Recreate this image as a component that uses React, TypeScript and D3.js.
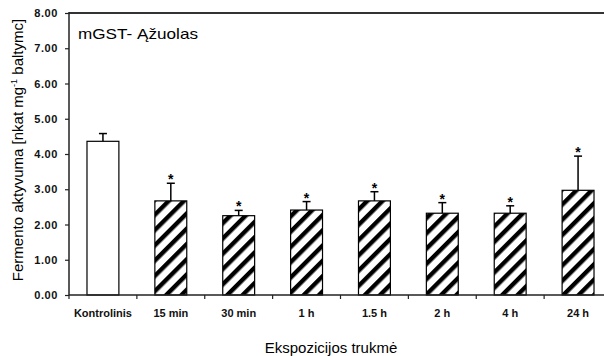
import { useEffect, useRef } from "react";
import * as d3 from "d3";

const categories = ["Kontrolinis", "15 min", "30 min", "1 h", "1.5 h", "2 h", "4 h", "24 h"];
const means = [4.36, 2.67, 2.25, 2.41, 2.67, 2.32, 2.32, 2.97];
const errors = [0.22, 0.5, 0.15, 0.24, 0.26, 0.3, 0.21, 0.97];
const significant = [false, true, true, true, true, true, true, true];
const yTicks = [0, 1, 2, 3, 4, 5, 6, 7, 8];

const FONT = "Arial, 'Liberation Sans', sans-serif";

const App = () => {
  const width = 604;
  const height = 356;
  const marginLeft = 69;
  const marginTop = 13;
  const plotBottom = 295;
  const bandRight = 612;

  const gx = useRef<SVGGElement>(null);
  const gy = useRef<SVGGElement>(null);

  const x = d3.scaleBand<string>().domain(categories).range([marginLeft, bandRight]).paddingInner(0.53).paddingOuter(0.265);
  const y = d3.scaleLinear().domain([0, 8]).range([plotBottom, marginTop]);
  const step = x.step();
  const boundaries = categories.map((c) => (x(c) as number) - (step * 0.53) / 2);

  useEffect(() => {
    const g = d3.select(gy.current);
    g.call(d3.axisLeft(y).tickValues(yTicks).tickFormat(d3.format(".2f")).tickSize(4).tickSizeOuter(0).tickPadding(7) as any);
    g.select(".domain").remove();
    g.selectAll("line").attr("stroke", "#222").attr("stroke-width", 1.2);
    g.selectAll("text").attr("font-family", FONT).attr("font-size", 11).attr("font-weight", "bold").attr("fill", "#111").attr("letter-spacing", 0.6);
  }, []);

  useEffect(() => {
    const g = d3.select(gx.current);
    g.call(d3.axisBottom(x).tickSize(0).tickPadding(14) as any);
    g.select(".domain").remove();
    g.selectAll("text").attr("font-family", FONT).attr("font-size", 11).attr("font-weight", "bold").attr("fill", "#111");
  }, []);

  return (
    <svg width={width} height={height} style={{ display: "block", position: "absolute", left: 0, top: 0, background: "#fff" }}>
      <defs>
        <pattern id="hatch" patternUnits="userSpaceOnUse" width={10.8} height={10.8} patternTransform="rotate(45)">
          <rect width={10.8} height={10.8} fill="#fff" />
          <rect x={0} width={4.4} height={10.8} fill="#000" />
        </pattern>
      </defs>

      {/* frame */}
      <line x1={marginLeft} x2={width} y1={marginTop} y2={marginTop} stroke="#333" strokeWidth={2} />
      <line x1={marginLeft} x2={marginLeft} y1={marginTop - 1} y2={plotBottom} stroke="#222" strokeWidth={1.5} />

      <g ref={gy} transform={`translate(${marginLeft},0)`} />

      {/* bars */}
      {categories.map((c, i) => {
        const bx = x(c) as number;
        const cx = bx + x.bandwidth() / 2;
        const top = y(means[i]);
        const errTop = y(means[i] + errors[i]);
        return (
          <g key={c}>
            <rect x={bx} y={top} width={x.bandwidth()} height={plotBottom - top} fill={i === 0 ? "#fff" : "url(#hatch)"} stroke="#000" strokeWidth={1.2} />
            <line x1={cx} x2={cx} y1={top} y2={errTop} stroke="#000" strokeWidth={1.5} />
            <line x1={cx - 4} x2={cx + 4} y1={errTop} y2={errTop} stroke="#000" strokeWidth={1.5} />
            {significant[i] && (
              <text x={cx} y={errTop + 1} textAnchor="middle" fontFamily={FONT} fontSize={14} fontWeight="bold" fill="#000">*</text>
            )}
          </g>
        );
      })}

      {/* x axis */}
      <line x1={marginLeft} x2={width} y1={plotBottom} y2={plotBottom} stroke="#222" strokeWidth={1.5} />
      {boundaries.map((b, i) => (
        <line key={i} x1={b} x2={b} y1={plotBottom} y2={plotBottom + 4} stroke="#222" strokeWidth={1.2} />
      ))}
      <g ref={gx} transform={`translate(0,${plotBottom})`} />

      {/* titles */}
      <text x={78} y={39} fontFamily={FONT} fontSize={15} fill="#000" textLength={120} lengthAdjust="spacingAndGlyphs">mGST- Ąžuolas</text>
      <text x={331} y={353} textAnchor="middle" fontFamily={FONT} fontSize={15} fill="#000">Ekspozicijos trukmė</text>
      <text transform="translate(23,150) rotate(-90)" textAnchor="middle" fontFamily={FONT} fontSize={15} fill="#000">
        Fermento aktyvuma [nkat mg<tspan fontSize={9} dy={-6}>-1</tspan><tspan dy={6}> baltymc]</tspan>
      </text>
    </svg>
  );
};

export default App;
